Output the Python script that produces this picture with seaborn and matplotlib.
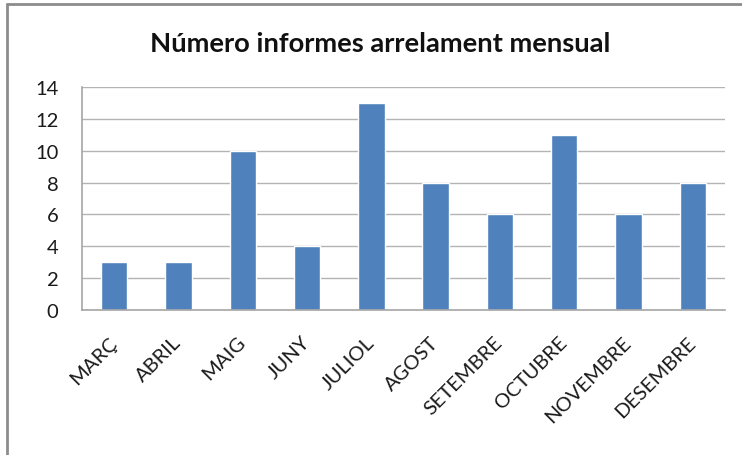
import matplotlib
matplotlib.use("Agg")
import matplotlib.pyplot as plt
import seaborn as sns
import pandas as pd
from matplotlib.lines import Line2D

# dades
mesos = ['MARÇ', 'ABRIL', 'MAIG', 'JUNY', 'JULIOL', 'AGOST',
         'SETEMBRE', 'OCTUBRE', 'NOVEMBRE', 'DESEMBRE']
informes = [3, 3, 10, 4, 13, 8, 6, 11, 6, 8]
y_ticks = [0, 2, 4, 6, 8, 10, 12, 14]

df = pd.DataFrame({'mes': mesos, 'informes': informes})

sns.set_theme(style='white')
plt.rcParams['font.family'] = ['Lato', 'DejaVu Sans']

fig = plt.figure(figsize=(7.42, 4.56), dpi=100)
ax = fig.add_axes([82 / 742, 1 - 311 / 456, (725 - 82) / 742, (311 - 88) / 456])

sns.barplot(data=df, x='mes', y='informes', color='#4F81BD', width=0.41,
            saturation=1, ax=ax)

ax.set_ylim(0, 14)
ax.set_yticks(y_ticks)
ax.yaxis.grid(True, color='#B3B3B3', linewidth=1)
ax.set_axisbelow(True)
ax.set_xlabel('')
ax.set_ylabel('')
for s in ['top', 'right']:
    ax.spines[s].set_visible(False)
for s in ['left', 'bottom']:
    ax.spines[s].set_color('#A6A6A6')
    ax.spines[s].set_linewidth(1.2)

ax.tick_params(axis='y', length=0, pad=17, labelsize=14.5, colors='#1a1a1a')
ax.tick_params(axis='x', length=0, pad=21, labelsize=14.5, colors='#1a1a1a')
for lbl in ax.get_xticklabels():
    lbl.set_rotation(45)
    lbl.set_ha('right')
    lbl.set_va('center')
    lbl.set_rotation_mode('anchor')

fig.text(0.512, 1 - 44 / 456, 'Número informes arrelament mensual',
         ha='center', va='center', fontsize=19.7, fontweight='bold', color='#111111')

# marc del gràfic
fig.add_artist(Line2D([7.5 / 742, 7.5 / 742], [0, 1 - 4.5 / 456],
                      transform=fig.transFigure, color='#8C8C8C', linewidth=2))
fig.add_artist(Line2D([7.5 / 742, 1], [1 - 4.5 / 456, 1 - 4.5 / 456],
                      transform=fig.transFigure, color='#8C8C8C', linewidth=2))

fig.savefig('out.png', dpi=100, facecolor='white')
